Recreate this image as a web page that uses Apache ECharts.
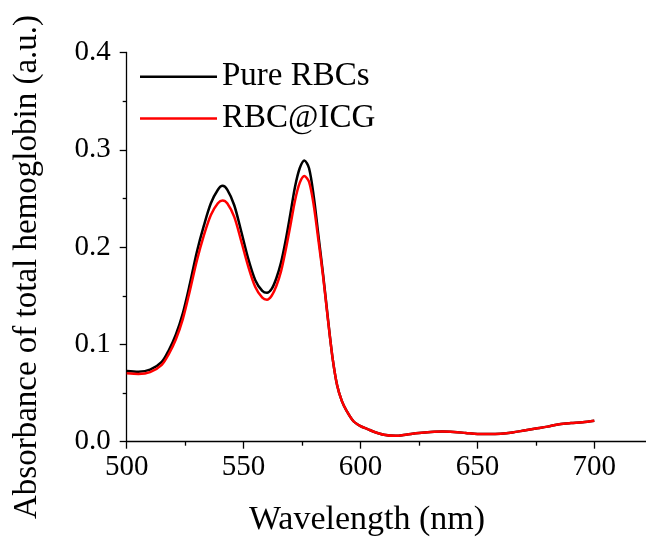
<!DOCTYPE html>
<html>
<head>
<meta charset="utf-8">
<script src="https://cdn.jsdelivr.net/npm/echarts@6/dist/echarts.min.js"></script>
<style>html,body{margin:0;padding:0;background:#fff}#c{width:646px;height:540px}</style>
</head>
<body>
<div id="c"></div>
<script>
var wavelengths = [500,505,510,515,518,521,524,527,530,533,536,539,541,543,546,549,552,555,558,560,562,564,566,568,570,572,574,576,578,580,582,584,586,588,590,592,594,597,600,603,606,610,615,620,625,630,635,640,645,650,655,660,665,670,675,680,685,690,695,700];
var pureRBCs = [0.0727,0.0720,0.0740,0.0820,0.094,0.110,0.132,0.162,0.195,0.222,0.245,0.259,0.263,0.259,0.243,0.216,0.188,0.166,0.155,0.153,0.157,0.168,0.184,0.207,0.234,0.262,0.281,0.289,0.281,0.252,0.212,0.172,0.128,0.087,0.058,0.042,0.032,0.021,0.016,0.013,0.010,0.0072,0.006,0.0075,0.009,0.010,0.0105,0.010,0.009,0.008,0.0078,0.0082,0.0095,0.0115,0.0135,0.0155,0.018,0.0192,0.020,0.0216];
var rbcICG = [0.0703,0.0697,0.0715,0.079,0.090,0.105,0.126,0.155,0.186,0.212,0.233,0.245,0.248,0.245,0.231,0.206,0.180,0.159,0.148,0.146,0.150,0.160,0.175,0.197,0.222,0.248,0.266,0.273,0.267,0.243,0.207,0.170,0.127,0.087,0.058,0.042,0.032,0.021,0.016,0.013,0.010,0.0072,0.006,0.0075,0.009,0.010,0.0105,0.010,0.009,0.008,0.0078,0.0082,0.0095,0.0115,0.0135,0.0155,0.018,0.0192,0.020,0.0216];
var seriesNames = ['Pure RBCs', 'RBC@ICG'];
var xTitle = 'Wavelength (nm)';
var yTitle = 'Absorbance of total hemoglobin (a.u.)';

function pairs(xs, ys){ return xs.map(function(x,i){ return [x, ys[i]]; }); }

var font = '"Liberation Serif","Times New Roman",serif';
var chart = echarts.init(document.getElementById('c'), null, {renderer:'canvas'});
chart.setOption({
  animation: false,
  backgroundColor: '#fff',
  grid: {left: 126.7, width: 584.5, top: 52.5, height: 389.2, containLabel: false, outerBoundsMode: 'none'},
  legend: {
    orient: 'vertical', left: 135, top: 55.2, itemGap: 8.7,
    icon: 'rect', itemWidth: 77, itemHeight: 2.5,
    textStyle: {fontFamily: font, fontSize: 33, color: '#000', lineHeight: 33},
    data: seriesNames
  },
  xAxis: {
    type: 'value', min: 500, max: 750, interval: 50,
    axisLine: {show: true, lineStyle: {color: '#000', width: 1.3}},
    axisTick: {show: true, inside: false, length: 7, lineStyle: {color: '#000', width: 1.3}},
    minorTick: {show: true, splitNumber: 2, length: 4, lineStyle: {color: '#000', width: 1.3}},
    splitLine: {show: false},
    axisLabel: {fontFamily: font, fontSize: 29, color: '#000', margin: 11},
  },
  yAxis: {
    type: 'value', min: 0, max: 0.4, interval: 0.1,
    axisLine: {show: true, lineStyle: {color: '#000', width: 1.3}},
    axisTick: {show: true, inside: false, length: 7, lineStyle: {color: '#000', width: 1.3}},
    minorTick: {show: true, splitNumber: 2, length: 4, lineStyle: {color: '#000', width: 1.3}},
    splitLine: {show: false},
    axisLabel: {fontFamily: font, fontSize: 29, color: '#000', margin: 16,
      formatter: function(v){ return v.toFixed(1); }}
  },
  graphic: [
    {type: 'text', x: 367, y: 520, style: {text: xTitle, font: '34px ' + font, fill: '#000', align: 'center', verticalAlign: 'middle'}},
    {type: 'text', x: 27, y: 267, rotation: Math.PI/2, style: {text: yTitle, font: '33px ' + font, fill: '#000', align: 'center', verticalAlign: 'middle'}}
  ],
  series: [
    {name: seriesNames[0], type: 'line', data: pairs(wavelengths, pureRBCs), smooth: 0.3, showSymbol: false, symbol: 'none',
      lineStyle: {color: '#000', width: 2.5}, itemStyle: {color: '#000'}},
    {name: seriesNames[1], type: 'line', data: pairs(wavelengths, rbcICG), smooth: 0.3, showSymbol: false, symbol: 'none',
      lineStyle: {color: '#ff0000', width: 2.5}, itemStyle: {color: '#ff0000'}}
  ]
});
</script>
</body>
</html>
